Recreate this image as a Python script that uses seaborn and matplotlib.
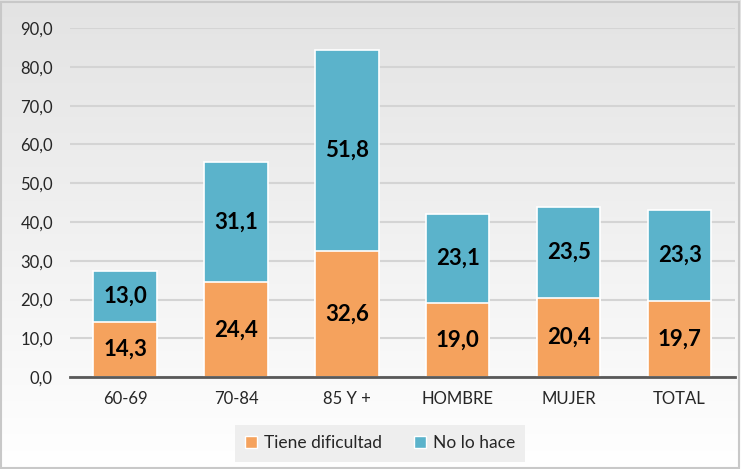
import numpy as np
import pandas as pd
import matplotlib.pyplot as plt
import seaborn as sns
from matplotlib.patches import Patch
from matplotlib.colors import LinearSegmentedColormap

categorias = ['60-69', '70-84', '85 Y +', 'HOMBRE', 'MUJER', 'TOTAL']
tiene_dificultad = [14.3, 24.4, 32.6, 19.0, 20.4, 19.7]
no_lo_hace = [13.0, 31.1, 51.8, 23.1, 23.5, 23.3]

color_naranja = '#F5A25D'
color_azul = '#5BB3CB'

sns.set_theme(style='white')
plt.rcParams['font.family'] = ['Lato', 'DejaVu Sans']

df = pd.DataFrame({'categoria': categorias,
                   'tiene': tiene_dificultad,
                   'no_hace': no_lo_hace})
df['total'] = df['tiene'] + df['no_hace']

fig = plt.figure(figsize=(7.41, 4.69), dpi=100)

# fondo degradado
bg = fig.add_axes([0, 0, 1, 1], zorder=-10)
grad = np.linspace(1.0, 0.0, 256).reshape(-1, 1)
bg.imshow(grad, aspect='auto', cmap=LinearSegmentedColormap.from_list('g', ['#E3E3E3', '#FFFFFF']),
          extent=[0, 1, 0, 1], origin='lower')
bg.set_xlim(0, 1)
bg.set_ylim(0, 1)
bg.axis('off')
bg.add_patch(plt.Rectangle((0.002, 0.003), 0.995, 0.993, fill=False,
                           edgecolor='#C8C8C8', linewidth=1.5))

ax = fig.add_axes([0.094, 0.196, 0.898, 0.744])
ax.set_facecolor('none')

sns.barplot(data=df, x='categoria', y='total', color=color_azul, width=0.57,
            edgecolor='white', linewidth=1.2, saturation=1, ax=ax, zorder=3)
sns.barplot(data=df, x='categoria', y='tiene', color=color_naranja, width=0.57,
            edgecolor='white', linewidth=1.2, saturation=1, ax=ax, zorder=4)

for i, (t, n) in enumerate(zip(tiene_dificultad, no_lo_hace)):
    ax.text(i, t / 2, f'{t:.1f}'.replace('.', ','), ha='center', va='center',
            fontsize=16, fontweight='bold', color='black', zorder=5)
    ax.text(i, t + n / 2, f'{n:.1f}'.replace('.', ','), ha='center', va='center',
            fontsize=16, fontweight='bold', color='black', zorder=5)

ax.set_ylim(0, 90)
ax.set_yticks(np.arange(0, 91, 10))
ax.set_yticklabels([f'{v:.1f}'.replace('.', ',') for v in np.arange(0, 91, 10)],
                   fontsize=12, color='#262626')
ax.tick_params(axis='x', labelsize=12, colors='#262626', pad=10, length=0)
ax.tick_params(axis='y', length=0, pad=12)
ax.set_xlabel('')
ax.set_ylabel('')
ax.yaxis.grid(True, color='#D4D4D4', linewidth=1.5, zorder=0)
ax.set_axisbelow(True)
for s in ['top', 'right', 'left']:
    ax.spines[s].set_visible(False)
ax.spines['bottom'].set_color('#595959')
ax.spines['bottom'].set_linewidth(2)
ax.spines['bottom'].set_zorder(6)

handles = [Patch(facecolor=color_naranja, edgecolor='white', label='Tiene dificultad'),
           Patch(facecolor=color_azul, edgecolor='white', label='No lo hace')]
leg = fig.legend(handles=handles, loc='center', bbox_to_anchor=(0.513, 0.055), ncol=2,
                 frameon=True, fontsize=12.5, handlelength=0.7, handleheight=0.7,
                 handletextpad=0.4, columnspacing=1.8, borderpad=0.6, fancybox=False)
leg.get_frame().set_facecolor('#EBEBEB')
leg.get_frame().set_edgecolor('none')

fig.savefig('out.png', dpi=100)
